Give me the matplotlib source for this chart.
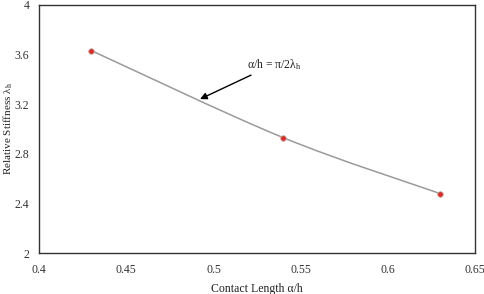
import numpy as np
import matplotlib
matplotlib.use("Agg")
import matplotlib.pyplot as plt
from matplotlib.path import Path
from matplotlib.patches import PathPatch

plt.rcParams['font.family'] = ['Liberation Serif', 'DejaVu Serif']
plt.rcParams['mathtext.fontset'] = 'custom'
plt.rcParams['mathtext.rm'] = 'Liberation Serif'
plt.rcParams['mathtext.it'] = 'Liberation Serif'

# ── data ─────────────────────────────────────────────────────────────────────
contact_length = [0.43, 0.54, 0.63]
stiffness = [3.63, 2.93, 2.48]

XLIM = (0.4, 0.65)
YLIM = (2, 4)
xticks = [0.4, 0.45, 0.5, 0.55, 0.6, 0.65]
yticks = [2, 2.4, 2.8, 3.2, 3.6, 4]


def smooth_path(xs, ys, sx, sy):
    # Excel-style smoothed line: cubic bezier through each point
    pts = np.column_stack([np.asarray(xs) / sx, np.asarray(ys) / sy])
    verts = [pts[0]]
    codes = [Path.MOVETO]
    n = len(pts)
    for i in range(n - 1):
        p0 = pts[i - 1] if i > 0 else pts[i]
        p1, p2 = pts[i], pts[i + 1]
        p3 = pts[i + 2] if i + 2 < n else pts[i + 1]
        c1 = p1 + (p2 - p0) / 6
        c2 = p2 - (p3 - p1) / 6
        verts += [c1, c2, p2]
        codes += [Path.CURVE4] * 3
    verts = np.array(verts) * [sx, sy]
    return Path(verts, codes)


fig = plt.figure(figsize=(4.84, 2.94), dpi=100)
ax = fig.add_axes([0.081, 0.139, 0.9, 0.845])

path = smooth_path(contact_length, stiffness, XLIM[1] - XLIM[0], YLIM[1] - YLIM[0])
ax.add_patch(PathPatch(path, facecolor='none', edgecolor='#9a9a9a', lw=1.1, zorder=2))
ax.scatter(contact_length, stiffness, s=16, color='#e8251c', edgecolors='#b0b0b0',
           linewidths=0.6, zorder=3)

ax.annotate(r'α/h = π/2λ$_{\mathrm{h}}$', xy=(0.4923, 3.24), xytext=(0.519, 3.52),
            fontsize=8.5, va='center', ha='left', color='#222222',
            arrowprops=dict(arrowstyle='-|>', color='black', lw=1.0,
                            mutation_scale=10, shrinkA=1, shrinkB=0))

ax.set_xlim(*XLIM)
ax.set_ylim(*YLIM)
ax.set_xticks(xticks)
ax.set_xticklabels(['0.4', '0.45', '0.5', '0.55', '0.6', '0.65'])
ax.set_yticks(yticks)
ax.set_yticklabels(['2', '2.4', '2.8', '3.2', '3.6', '4'])
ax.tick_params(length=0, labelsize=8.5, pad=8, colors='#333333')
ax.tick_params(axis='y', pad=7)
for s in ax.spines.values():
    s.set_linewidth(1.0)
    s.set_color('#333333')

ax.set_xlabel('Contact Length α/h', fontsize=8.5, labelpad=5, color='#222222')
ax.set_ylabel(r'Relative Stiffness λ$_{\mathrm{h}}$', fontsize=8, color='#222222')
ax.yaxis.set_label_coords(-0.056, 0.5)

fig.savefig('out.png', dpi=100)
